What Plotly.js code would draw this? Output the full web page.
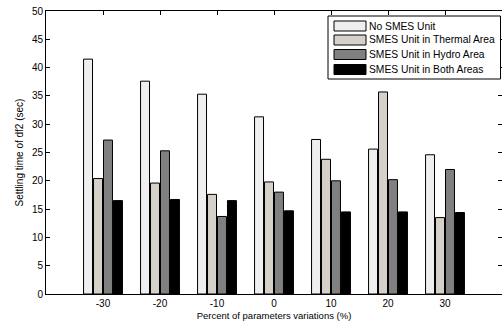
<!DOCTYPE html>
<html><head><meta charset="utf-8">
<script src="https://cdn.plot.ly/plotly-3.0.1.min.js"></script>
<style>html,body{margin:0;padding:0;background:#fff;}#chart{width:502px;height:324px;}</style>
</head><body><div id="chart"></div>
<script>
const categories = [-30, -20, -10, 0, 10, 20, 30];
const seriesNames = ["No SMES Unit", "SMES Unit in Thermal Area", "SMES Unit in Hydro Area", "SMES Unit in Both Areas"];
const noSmes = [41.5, 37.6, 35.3, 31.3, 27.3, 25.6, 24.6];
const smesThermal = [20.4, 19.6, 17.6, 19.8, 23.8, 35.7, 13.5];
const smesHydro = [27.2, 25.3, 13.7, 18.0, 20.0, 20.2, 22.0];
const smesBoth = [16.5, 16.7, 16.5, 14.7, 14.5, 14.5, 14.4];
const colors = ["#efefef", "#d5d1c9", "#808080", "#000000"];
const series = [noSmes, smesThermal, smesHydro, smesBoth];

const traces = series.map((vals, i) => ({
  type: 'bar', x: categories, y: vals, name: seriesNames[i], showlegend: false,
  marker: {color: colors[i], line: {color: '#000', width: 1}}
}));

// Plot area geometry (pixels) used to place the custom legend in paper coordinates
const W = 502, H = 324, M = {l: 46, r: 0, t: 11, b: 30};
const pw = W - M.l - M.r, ph = H - M.t - M.b;
const px = x => (x - M.l) / pw;
const py = y => (H - M.b - y) / ph;

const shapes = [{type: 'rect', xref: 'paper', yref: 'paper', x0: px(328), x1: px(500.5), y0: py(79), y1: py(16),
  fillcolor: '#fff', line: {color: '#000', width: 1}, layer: 'above'}];
const annotations = [];
const rowCenters = [26, 40, 54.5, 69.5];
seriesNames.forEach((name, i) => {
  const c = rowCenters[i];
  shapes.push({type: 'rect', xref: 'paper', yref: 'paper', x0: px(334), x1: px(366), y0: py(c + 5), y1: py(c - 5),
    fillcolor: colors[i], line: {color: '#000', width: 1}, layer: 'above'});
  annotations.push({xref: 'paper', yref: 'paper', x: px(367), y: py(c), xanchor: 'left', yanchor: 'middle',
    text: name, showarrow: false, font: {size: 10.3, color: '#000'}});
});

const font = {family: 'Liberation Sans, Arial, Helvetica, sans-serif', size: 10, color: '#000'};
const layout = {
  width: W, height: H,
  margin: M,
  paper_bgcolor: '#fff', plot_bgcolor: '#fff',
  font: font,
  barmode: 'group', bargap: 0.3, bargroupgap: 0.1,
  showlegend: false,
  shapes: shapes, annotations: annotations,
  xaxis: {range: [-40, 40], tickvals: categories, ticktext: categories.map(String),
          ticks: 'inside', ticklen: 4, tickcolor: '#000', showline: true, linecolor: '#000', linewidth: 1,
          mirror: 'ticks', showgrid: false, zeroline: false,
          title: {text: 'Percent of parameters variations (%)', font: {size: 9.5}, standoff: 4}},
  yaxis: {range: [0, 50], dtick: 5, ticks: 'inside', ticklen: 4, tickcolor: '#000',
          showline: true, linecolor: '#000', linewidth: 1, mirror: 'ticks', showgrid: false, zeroline: false,
          title: {text: 'Settling time of df2 (sec)', font: {size: 10}, standoff: 6}}
};
Plotly.newPlot('chart', traces, layout, {displayModeBar: false, staticPlot: true});
</script></body></html>
